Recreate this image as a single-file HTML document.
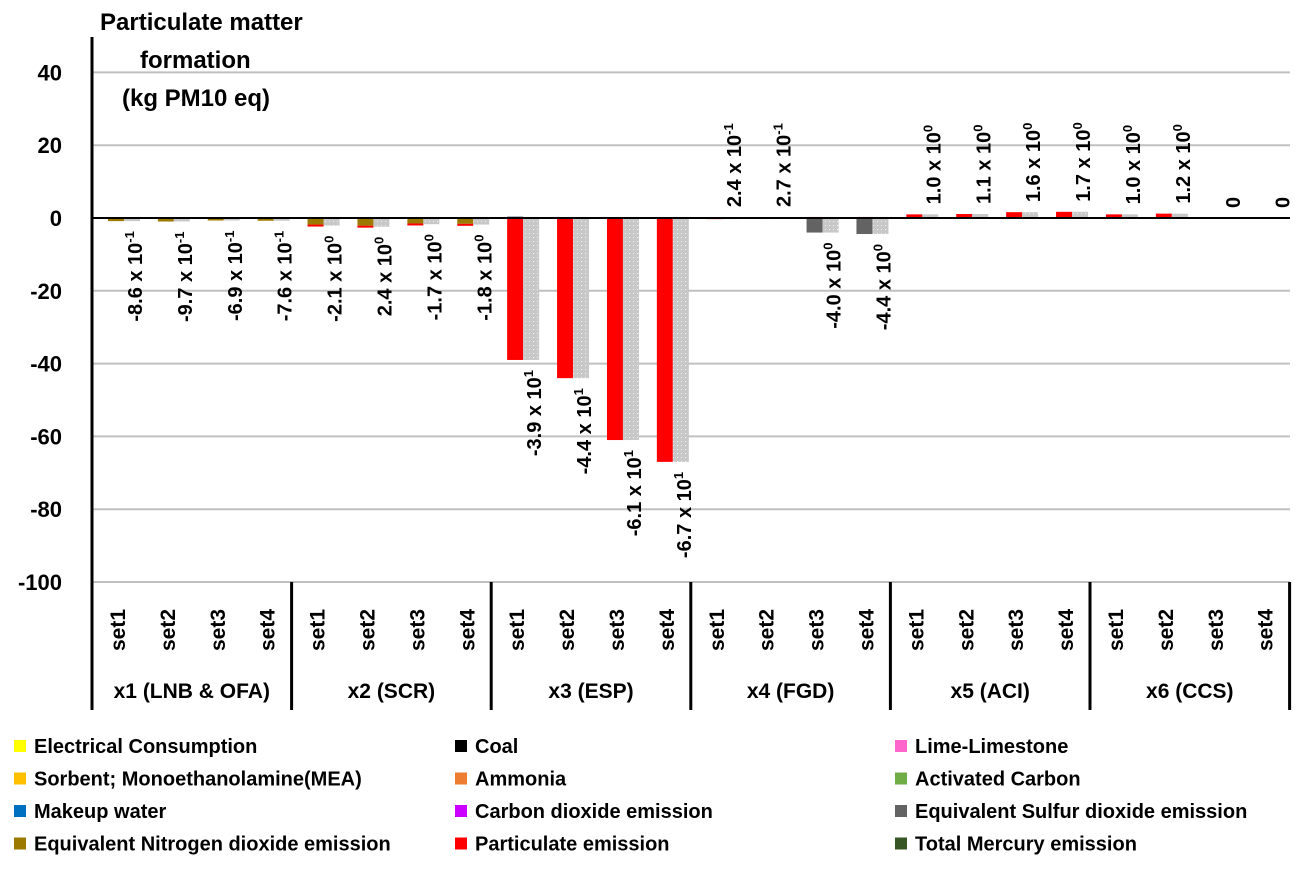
<!DOCTYPE html>
<html><head><meta charset="utf-8"><style>
body{margin:0;background:#fff;font-family:"Liberation Sans",Arial,sans-serif}
svg text{font-family:"Liberation Sans",Arial,sans-serif;font-weight:bold}
</style></head><body>
<svg id="chart" width="1301" height="864">
<defs><pattern id="dots" width="4" height="4" patternUnits="userSpaceOnUse"><rect width="4" height="4" fill="#c8c8c8"/><rect x="1" y="1" width="1" height="1" fill="#f0f0f0"/></pattern></defs>
<text x="100" y="30" font-size="24">Particulate matter</text>
<text x="140" y="68" font-size="24">formation</text>
<text x="122" y="106" font-size="24">(kg PM10 eq)</text>
<g id="grid"></g><g id="bars"></g><g id="labels"></g><g id="axis"></g><g id="legend"></g>
</svg>
<script>
const groups=["x1 (LNB & OFA)","x2 (SCR)","x3 (ESP)","x4 (FGD)","x5 (ACI)","x6 (CCS)"];
const sets=["set1","set2","set3","set4"];
const yTicks=[40,20,0,-20,-40,-60,-80,-100];
const olive=[-0.86,-0.97,-0.69,-0.76,-1.8,-2.1,-1.5,-1.6,0,0,0,0,0,0,0,0,0,0,0,0,0,0,0,0];
const red=[0,0,0,0,-0.3,-0.3,-0.2,-0.2,-39,-44,-61,-67,0.24,0.27,0,0,1.0,1.1,1.6,1.7,1.0,1.2,0,0];
const sulfur=[0,0,0,0,0,0,0,0,0.4,0,0,0,0,0,-4.0,-4.4,0,0,0,0,0,0,0,0];
const lime=[0,0,0,0,0,0,0,0,0,0,0,0,0,0,0.3,0.3,0,0,0,0,0,0,0,0];
const total=[-0.86,-0.97,-0.69,-0.76,-2.1,-2.4,-1.7,-1.8,-39,-44,-61,-67,0.24,0.27,-4.0,-4.4,1.0,1.1,1.6,1.7,1.0,1.2,0,0];
const mant=["-8.6","-9.7","-6.9","-7.6","-2.1","2.4","-1.7","-1.8","-3.9","-4.4","-6.1","-6.7","2.4","2.7","-4.0","-4.4","1.0","1.1","1.6","1.7","1.0","1.2","0","0"];
const expo=["-1","-1","-1","-1","0","0","0","0","1","1","1","1","-1","-1","0","0","0","0","0","0","0","0","",""];
const legendItems=[["Electrical Consumption","#ffff00"],["Coal","#000000"],["Lime-Limestone","#ff66cc"],["Sorbent; Monoethanolamine(MEA)","#ffc000"],["Ammonia","#ed7d31"],["Activated Carbon","#70ad47"],["Makeup water","#0070c0"],["Carbon dioxide emission","#cc00ff"],["Equivalent Sulfur dioxide emission","#636363"],["Equivalent Nitrogen dioxide emission","#9c7a00"],["Particulate emission","#ff0000"],["Total Mercury emission","#375623"]];
const NS="http://www.w3.org/2000/svg";
const X0=92,GW=199.6,SW=GW/4;
const y=v=>218-v*3.64;
const cx=i=>X0+Math.floor(i/4)*GW+(i%4)*SW+SW/2;
function mk(t,a,p){const e=document.createElementNS(NS,t);for(const k in a)e.setAttribute(k,a[k]);p.appendChild(e);return e;}
const grid=document.getElementById('grid');
yTicks.forEach(t=>{
 if(t!==0){const l=mk('line',{x1:X0,x2:1290,y1:y(t),y2:y(t),stroke:'#c0c0c0','stroke-width':2},grid);
 
 }
 const tx=mk('text',{x:62,y:y(t)+8,'text-anchor':'end','font-size':22},grid);tx.textContent=t;
 
 
});
const bars=document.getElementById('bars');
const labels=document.getElementById('labels');
const comps=[[olive,'#9c7a00'],[red,'#ff0000'],[sulfur,'#636363'],[lime,'#ff66cc']];
for(let i=0;i<24;i++){
 let pos=0,neg=0;const c=cx(i);
 comps.forEach(([arr,col])=>{const v=arr[i];if(!v)return;let a,b;
  if(v>0){a=pos;b=pos+v;pos=b;}else{a=neg;b=neg+v;neg=b;}
  const r=mk('rect',{x:c-9,width:16,y:Math.min(y(a),y(b)),height:Math.max(Math.abs(y(a)-y(b)),2),fill:col},bars);
  
  });
 const v=total[i];
 if(v){const r=mk('rect',{x:c+7,width:16,y:Math.min(y(0),y(v)),height:Math.max(Math.abs(y(0)-y(v)),2),fill:'url(#dots)'},bars);
 
 }
 const lx=c+25;let ly,anchor;
 if(v<0){ly=y(v)+10;anchor='end';}else{ly=y(Math.max(v,0))-10;anchor='start';}
 const t=mk('text',{transform:`translate(${lx},${ly}) rotate(-90)`,'text-anchor':anchor,'font-size':20},labels);
 
 
 if(expo[i]){t.appendChild(document.createTextNode(mant[i]+' x 10'));const s=mk('tspan',{'font-size':13,dy:-8},t);s.textContent=expo[i];}
 else t.textContent=mant[i];
}
const ax=document.getElementById('axis');
mk('line',{x1:X0,x2:1290,y1:218,y2:218,stroke:'#000','stroke-width':2},ax);
mk('line',{x1:X0,x2:X0,y1:37,y2:710,stroke:'#000','stroke-width':3},ax);
for(let g=1;g<=6;g++){const l=mk('line',{x1:X0+g*GW,x2:X0+g*GW,y1:582,y2:710,stroke:'#000','stroke-width':3},ax);
 
 }
for(let i=0;i<24;i++){const t=mk('text',{transform:`translate(${cx(i)+8},${651}) rotate(-90)`,'font-size':21},ax);t.textContent=sets[i%4];
 
 }
groups.forEach((g,k)=>{const t=mk('text',{x:X0+k*GW+GW/2,y:698,'text-anchor':'middle','font-size':21},ax);t.textContent=g;
 
 });
const lg=document.getElementById('legend');
legendItems.forEach(([n,c],k)=>{const col=k%3,row=Math.floor(k/3);const x=[14,455,895][col],yy=746+row*32.5;
 const r=mk('rect',{x:x,y:yy-6,width:12,height:12,fill:c},lg);
 
 
 const t=mk('text',{x:x+20,y:yy+7,'font-size':20},lg);t.textContent=n;
 
 });
</script>
</body></html>
